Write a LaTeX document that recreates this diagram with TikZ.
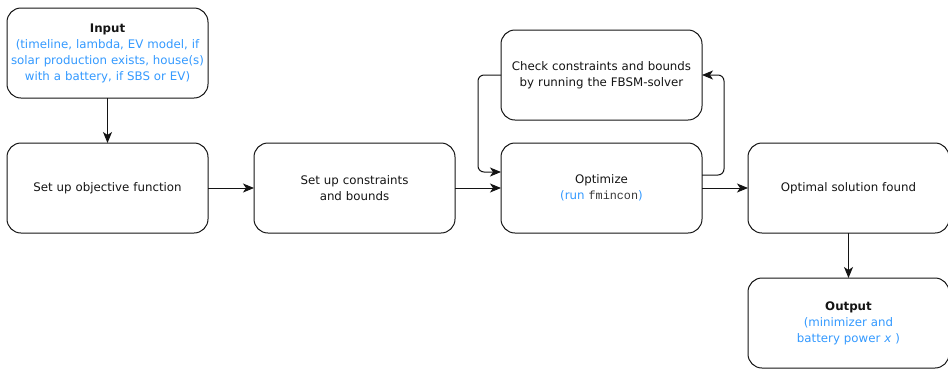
\documentclass[tikz,border=0pt]{standalone}
\usepackage{fontspec}
\setmainfont{DejaVu Sans}
\setmonofont{Liberation Mono}
\usetikzlibrary{arrows.meta}

\definecolor{noteblue}{RGB}{51,153,255}
\definecolor{inkgray}{RGB}{20,20,20}

\begin{document}
\begin{tikzpicture}[x=1pt,y=-1pt]

    \tikzset{
      stage/.style={
        draw=inkgray,
        line width=1pt,
        rounded corners=14pt,
        minimum width=201pt,
        minimum height=90pt,
        inner sep=0pt,
        outer sep=0pt,
        text width=196pt,
        align=center,
        font=\fontsize{11.8}{16}\selectfont,
        text=inkgray,
      },
      flow/.style={
        draw=inkgray,
        line width=1pt,
        rounded corners=6pt,
        -{Stealth[length=11pt,width=9pt,inset=3pt]},
      },
    }
    \useasboundingbox (0,0) rectangle (948,368);

	% boxes
	\node[stage] (input) at (107.5,53) {\textbf{Input}\\\textcolor{noteblue}{(timeline, lambda, EV model, if\\solar production exists, house(s)\\with a battery, if SBS or EV)}};
	\node[stage] (objective) at (107.5,188) {Set up objective function};
	\node[stage] (constraints) at (354.5,188) {Set up constraints\\and bounds};
	\node[stage] (optimize) at (601.5,188) {Optimize\\\textcolor{noteblue}{(run \textcolor{inkgray!85}{\texttt{fmincon}})}};
	\node[stage] (check) at (601.5,75) {Check constraints and bounds\\by running the FBSM-solver};
	\node[stage] (optimal) at (848.5,188) {Optimal solution found};
	\node[stage] (output) at (848.5,323) {\textbf{Output}\\\textcolor{noteblue}{(minimizer and\\battery power \textit{x} )}};

	% loop between optimizer and solver
	\coordinate (loopin) at ([yshift=16pt]optimize.west);
	\coordinate (loopout) at ([yshift=13pt]optimize.east);

	% connectors
	\draw[flow] (input) -- (objective);
	\draw[flow] (objective) -- (constraints);
	\draw[flow] (constraints) -- (optimize);
	\draw[flow] (optimize) -- (optimal);
	\draw[flow] (optimal) -- (output);
	\draw[flow] (check.west) -- ++(-23,0) |- (loopin);
	\draw[flow] (loopout) -- ++(22,0) |- (check.east);

\end{tikzpicture}
\end{document}
